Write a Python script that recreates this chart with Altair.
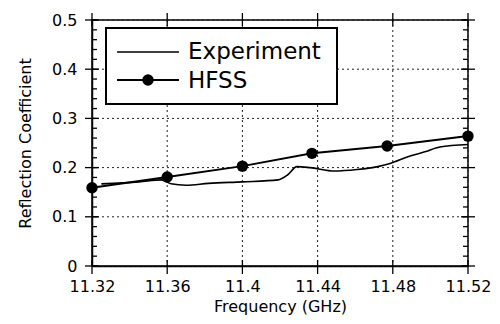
import altair as alt
import pandas as pd

# ---- data ----
hfss_freq = [11.32, 11.36, 11.40, 11.437, 11.477, 11.52]
hfss_refl = [0.159, 0.181, 0.203, 0.229, 0.244, 0.264]

exp_freq = [11.325, 11.345, 11.357, 11.362, 11.370, 11.382, 11.40, 11.419, 11.424,
            11.429, 11.436, 11.449, 11.461, 11.472, 11.479, 11.488, 11.497, 11.505, 11.52]
exp_refl = [0.167, 0.171, 0.175, 0.167, 0.164, 0.168, 0.171, 0.175, 0.185,
            0.202, 0.200, 0.193, 0.196, 0.202, 0.209, 0.222, 0.232, 0.242, 0.247]

x_ticks = [11.32, 11.36, 11.40, 11.44, 11.48, 11.52]
y_ticks = [0.0, 0.1, 0.2, 0.3, 0.4, 0.5]
y_minor = [round(i * 0.02, 2) for i in range(26)]

legend_labels = ["Experiment", "HFSS"]

W, H = 376, 246
FONT = "DejaVu Sans"

xs = alt.Scale(domain=[11.32, 11.52], nice=False, zero=False)
ys = alt.Scale(domain=[0, 0.5], nice=False)

exp_df = pd.DataFrame({"f": exp_freq, "r": exp_refl})
hfss_df = pd.DataFrame({"f": hfss_freq, "r": hfss_refl})
xt_df = pd.DataFrame({"f": x_ticks})
yt_df = pd.DataFrame({"r": y_ticks})
ym_df = pd.DataFrame({"r": y_minor})

xaxis = alt.Axis(values=x_ticks, format=".2~f", title="Frequency (GHz)", ticks=False,
                 grid=False, labelFlush=False, labelOverlap=False,
                 labelFontSize=16, titleFontSize=16, titleFontWeight="normal",
                 labelPadding=12, titlePadding=4, domainColor="black", domainWidth=1.5,
                 labelColor="black", titleColor="black", labelFont=FONT, titleFont=FONT)
yaxis = alt.Axis(values=y_ticks, title="Reflection Coefficient", ticks=False,
                 labelExpr="datum.value == 0 ? '0' : format(datum.value, '.1f')",
                 grid=False, labelFlush=False, labelOverlap=False,
                 labelFontSize=16, titleFontSize=16, titleFontWeight="normal",
                 labelPadding=15, titlePadding=18, domainColor="black", domainWidth=1.5,
                 labelColor="black", titleColor="black", labelFont=FONT, titleFont=FONT)

# dotted grid
grid_y = alt.Chart(yt_df).mark_rule(color="#222", strokeWidth=1, strokeDash=[2, 3]).encode(
    y=alt.Y("r:Q", scale=ys), x=alt.value(0), x2=alt.value(W))
grid_x = alt.Chart(xt_df).mark_rule(color="#222", strokeWidth=1, strokeDash=[2, 3]).encode(
    x=alt.X("f:Q", scale=xs), y=alt.value(0), y2=alt.value(H))

exp_line = alt.Chart(exp_df).mark_line(color="black", strokeWidth=1.6, interpolate="monotone").encode(
    x=alt.X("f:Q", scale=xs, axis=xaxis),
    y=alt.Y("r:Q", scale=ys, axis=yaxis),
)
hfss_line = alt.Chart(hfss_df).mark_line(color="black", strokeWidth=2).encode(
    x=alt.X("f:Q", scale=xs), y=alt.Y("r:Q", scale=ys))
hfss_pts = alt.Chart(hfss_df).mark_point(filled=True, color="black", size=130, opacity=1).encode(
    x=alt.X("f:Q", scale=xs), y=alt.Y("r:Q", scale=ys))

# tick marks (crossing majors, inward minors)
def yrule(df, x0, x1):
    return alt.Chart(df).mark_rule(color="black", strokeWidth=1.3).encode(
        y=alt.Y("r:Q", scale=ys), x=alt.value(x0), x2=alt.value(x1))

def xrule(df, y0, y1):
    return alt.Chart(df).mark_rule(color="black", strokeWidth=1.3).encode(
        x=alt.X("f:Q", scale=xs), y=alt.value(y0), y2=alt.value(y1))

ticks = [
    yrule(ym_df, 0, 5), yrule(yt_df, -7, 7),
    yrule(ym_df, W - 5, W), yrule(yt_df, W - 7, W + 7),
    xrule(xt_df, H - 6, H + 8), xrule(xt_df, -7, 6),
]

# legend box
one = pd.DataFrame({"a": [0]})
leg_box = alt.Chart(one).mark_rect(fill="white", stroke="black", strokeWidth=2).encode(
    x=alt.value(14), x2=alt.value(245), y=alt.value(8), y2=alt.value(84))
leg_l1 = alt.Chart(one).mark_rule(color="black", strokeWidth=1.6).encode(
    x=alt.value(25), x2=alt.value(87), y=alt.value(32))
leg_l2 = alt.Chart(one).mark_rule(color="black", strokeWidth=2).encode(
    x=alt.value(25), x2=alt.value(87), y=alt.value(60))
leg_pt = alt.Chart(one).mark_point(filled=True, color="black", size=130, opacity=1).encode(
    x=alt.value(56), y=alt.value(60))
leg_t1 = alt.Chart(one).mark_text(text=legend_labels[0], align="left", baseline="middle",
                                   fontSize=23, font=FONT, color="black").encode(
    x=alt.value(96), y=alt.value(32))
leg_t2 = alt.Chart(one).mark_text(text=legend_labels[1], align="left", baseline="middle",
                                   fontSize=23, font=FONT, color="black").encode(
    x=alt.value(96), y=alt.value(61))

chart = alt.layer(
    grid_x, grid_y, exp_line, hfss_line, hfss_pts, *ticks,
    leg_box, leg_l1, leg_l2, leg_pt, leg_t1, leg_t2,
).properties(
    width=W, height=H,
    autosize=alt.AutoSizeParams(type="none"),
    padding={"left": 84, "top": 12, "right": 24, "bottom": 50},
    background="white",
).configure_view(stroke="black", strokeWidth=1.5)

chart.save("out.html", embed_options={"renderer": "svg", "actions": False})
